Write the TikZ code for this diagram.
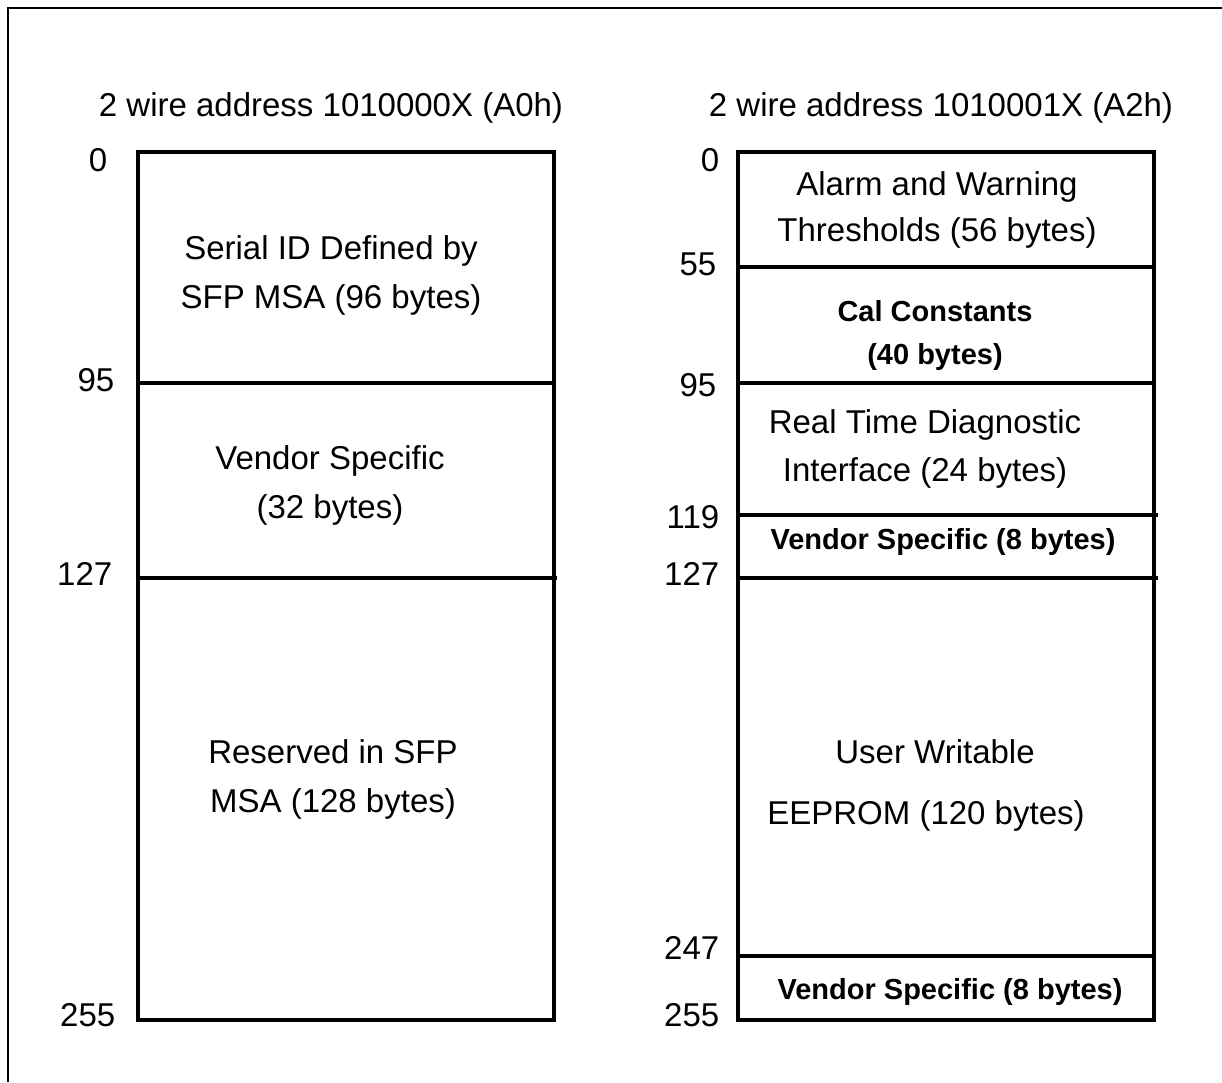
\documentclass[tikz,border=0pt]{standalone}
\usepackage{fontspec}
\setmainfont{Liberation Sans}
\begin{document}
\begin{tikzpicture}[x=1pt,y=-1pt,line width=3.5pt,
  txt/.style={align=center,inner sep=0pt,font=\fontsize{33}{49}\selectfont},
  bold/.style={align=center,inner sep=0pt,font=\fontsize{29}{43}\selectfont\bfseries},
  num/.style={anchor=east,inner sep=0pt,font=\fontsize{33}{40}\selectfont}]
\useasboundingbox (0,0) rectangle (1222,1082);
% outer frame (open at right and bottom)
\draw[line width=2.5pt] (8,1082) -- (8,8) -- (1222,8);

% A0h map
\draw (138,152) rectangle (554,1020);
\draw (138,383) -- (554,383);
\draw (138,578) -- (557,578);

% A2h map
\draw (738,152) rectangle (1154,1020);
\foreach \y in {267,383,956} \draw (738,\y) -- (1154,\y);
\foreach \y in {515,578} \draw (738,\y) -- (1158,\y);

% titles
\node[txt] (titleA) at (331,108) {2 wire address 1010000X (A0h)};
\node[txt] (titleB) at (941,108) {2 wire address 1010001X (A2h)};

% addresses
\foreach \x/\y/\t in {109/160/0,116/380/95,114/574/127,117/1015/255}
	\node[num] (a\t) at (\x,\y) {\t};
\foreach \x/\y/\t in {721/160/0,718/264/55,718/385/95,721/517/119,721/574/127,721/948/247,721/1015/255}
	\node[num] (b\t) at (\x,\y) {\t};

% A0h contents
\node[txt] (serial) at (331,275) {Serial ID Defined by\\SFP MSA (96 bytes)};
\node[txt] (vendA) at (330,485) {Vendor Specific\\(32 bytes)};
\node[txt] (resA) at (333,779) {Reserved in SFP\\MSA (128 bytes)};

% A2h contents
\node[txt,font=\fontsize{33}{46}\selectfont] (alarm) at (937,210) {Alarm and Warning\\Thresholds (56 bytes)};
\node[bold] (cal) at (935,335) {Cal Constants\\(40 bytes)};
\node[txt,font=\fontsize{33}{48}\selectfont] (diag) at (925,449) {Real Time Diagnostic\\Interface (24 bytes)};
\node[bold] (vendB) at (943,542) {Vendor Specific (8 bytes)};
\node[txt] (user) at (935,752) {User Writable};
\node[txt] (eeprom) at (926,816) {EEPROM (120 bytes)};
\node[bold] (vendC) at (950,992) {Vendor Specific (8 bytes)};

\end{tikzpicture}
\end{document}
